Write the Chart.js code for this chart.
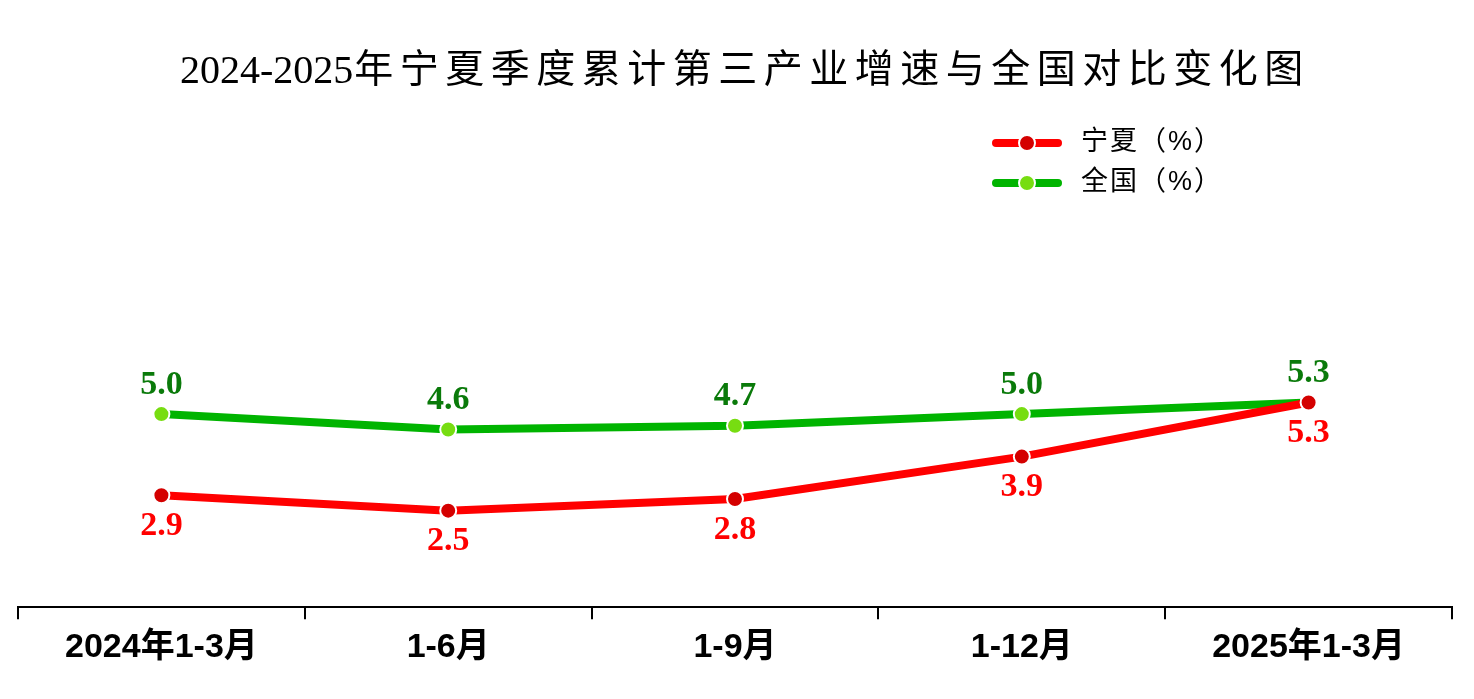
<!DOCTYPE html>
<html>
<head>
<meta charset="utf-8">
<script src="https://cdn.jsdelivr.net/npm/chart.js@4/dist/chart.umd.min.js"></script>
<style>
html,body{margin:0;padding:0;background:#fff;}
canvas{display:block;}
</style>
</head>
<body>
<canvas id="c" width="1474" height="699"></canvas>
<script>
const titleNum = '2024-2025';
const titleCjk = '年宁夏季度累计第三产业增速与全国对比变化图';
const categories = ['2024年1-3月', '1-6月', '1-9月', '1-12月', '2025年1-3月'];
const ningxia = [2.9, 2.5, 2.8, 3.9, 5.3];
const national = [5.0, 4.6, 4.7, 5.0, 5.3];
const seriesNames = ['宁夏（%）', '全国（%）'];

const SERIF = '"Liberation Serif", "Noto Sans CJK SC", serif';
const SANS = '"Liberation Sans", "Noto Sans CJK SC", sans-serif';

const decor = {
  id: 'decor',
  afterDraw(chart) {
    const ctx = chart.ctx;
    ctx.save();
    // Title
    ctx.fillStyle = '#000';
    ctx.textAlign = 'left';
    ctx.textBaseline = 'middle';
    ctx.font = '400 40px ' + SERIF;
    ctx.fillText(titleNum, 180, 72);
    const numW = ctx.measureText(titleNum).width;
    ctx.font = '400 39px ' + SERIF;
    try { ctx.letterSpacing = '6.5px'; } catch (e) {}
    ctx.fillText(titleCjk, 180 + numW + 1, 72);
    try { ctx.letterSpacing = '0px'; } catch (e) {}

    // Legend
    const legendY = [143, 183];
    chart.data.datasets.forEach((ds, i) => {
      const y = legendY[i];
      ctx.strokeStyle = ds.borderColor;
      ctx.lineWidth = 8;
      ctx.lineCap = 'round';
      ctx.beginPath();
      ctx.moveTo(996, y);
      ctx.lineTo(1058, y);
      ctx.stroke();
      ctx.beginPath();
      ctx.arc(1027, y, 8, 0, Math.PI * 2);
      ctx.fillStyle = ds.pointBackgroundColor;
      ctx.fill();
      ctx.lineWidth = 2;
      ctx.strokeStyle = '#fff';
      ctx.stroke();
      ctx.fillStyle = '#000';
      ctx.font = '400 27px ' + SANS;
      ctx.textAlign = 'left';
      ctx.textBaseline = 'middle';
      try { ctx.letterSpacing = '2px'; } catch (e) {}
      ctx.fillText(ds.label, 1081, y);
      try { ctx.letterSpacing = '0px'; } catch (e) {}
    });

    // Data labels
    chart.data.datasets.forEach((ds, i) => {
      const meta = chart.getDatasetMeta(i);
      ctx.font = 'bold 34px ' + SERIF;
      ctx.textAlign = 'center';
      ctx.textBaseline = 'middle';
      ctx.fillStyle = ds.labelColor;
      meta.data.forEach((pt, j) => {
        const off = ds.labelPos === 'below' ? 31 : -29;
        ctx.fillText(ds.data[j].toFixed(1), pt.x, pt.y + off);
      });
    });
    ctx.restore();
  }
};

new Chart(document.getElementById('c'), {
  type: 'line',
  data: {
    labels: categories,
    datasets: [
      {
        label: seriesNames[0],
        data: ningxia,
        borderColor: '#FF0000',
        backgroundColor: '#FF0000',
        pointBackgroundColor: '#D40000',
        pointBorderColor: '#FFFFFF',
        pointBorderWidth: 2,
        pointRadius: 8,
        borderWidth: 8,
        tension: 0,
        labelColor: '#FF0000',
        labelPos: 'below'
      },
      {
        label: seriesNames[1],
        data: national,
        borderColor: '#00B400',
        backgroundColor: '#00B400',
        pointBackgroundColor: '#77DD11',
        pointBorderColor: '#FFFFFF',
        pointBorderWidth: 2,
        pointRadius: 8,
        borderWidth: 8,
        tension: 0,
        labelColor: '#0A7A0A',
        labelPos: 'above'
      }
    ]
  },
  options: {
    responsive: false,
    animation: false,
    layout: { padding: { top: 221, left: 18, right: 22, bottom: 23 } },
    plugins: {
      legend: { display: false },
      title: { display: false },
      tooltip: { enabled: false }
    },
    scales: {
      x: {
        offset: true,
        grid: {
          offset: true,
          drawOnChartArea: false,
          drawTicks: true,
          tickLength: 12,
          color: '#000',
          lineWidth: 2
        },
        border: { display: true, color: '#000', width: 2 },
        ticks: {
          color: '#000',
          padding: 8,
          font: { family: SANS, size: 34, weight: 'bold' },
          maxRotation: 0
        }
      },
      y: {
        display: false,
        min: 0,
        max: 10
      }
    }
  },
  plugins: [decor]
});
</script>
</body>
</html>
